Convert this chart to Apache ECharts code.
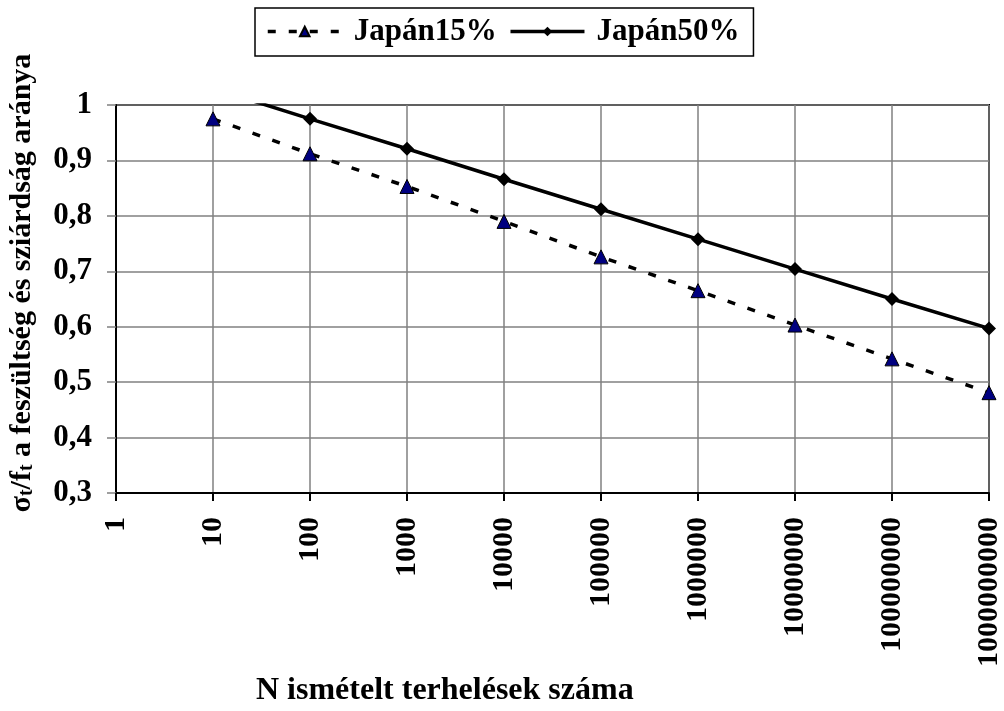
<!DOCTYPE html>
<html>
<head>
<meta charset="utf-8">
<script src="https://cdn.jsdelivr.net/npm/echarts@6/dist/echarts.min.js"></script>
<style>
  html, body { margin: 0; padding: 0; background: #fff; }
  #chart { width: 1004px; height: 711px; }
</style>
</head>
<body>
<div id="chart"></div>
<script>
// Number of repeated loads (log scale) and stress/strength ratio
const loadCycles = [10, 100, 1000, 10000, 100000, 1000000, 10000000, 100000000, 1000000000];
const japan15 = [0.975, 0.912, 0.853, 0.790, 0.726, 0.665, 0.603, 0.542, 0.481];
const japan50 = [1.03, 0.975, 0.921, 0.866, 0.812, 0.758, 0.704, 0.650, 0.597];
const seriesNames = ['Japán15%', 'Japán50%'];
const yTickValues = [0.3, 0.4, 0.5, 0.6, 0.7, 0.8, 0.9, 1];
const yTickLabels = ['0,3', '0,4', '0,5', '0,6', '0,7', '0,8', '0,9', '1'];
const xTitle = 'N ismételt terhelések száma';

const FONT = '"Liberation Serif", "Times New Roman", serif';

function yLabel(v) {
  for (let i = 0; i < yTickValues.length; i++) {
    if (Math.abs(v - yTickValues[i]) < 1e-6) return yTickLabels[i];
  }
  return '';
}

const chart = echarts.init(document.getElementById('chart'), null, { renderer: 'canvas' });

chart.setOption({
  backgroundColor: '#ffffff',
  animation: false,
  title: {
    text: xTitle,
    left: 256,
    top: 675,
    padding: 0,
    textStyle: { fontFamily: FONT, fontWeight: 'bold', fontSize: 32, color: '#000' }
  },
  legend: {
    data: seriesNames,
    left: 255,
    top: 8,
    width: 520,
    padding: [8, 14, 9, 11],
    borderColor: '#000',
    borderWidth: 1.5,
    itemWidth: 74,
    itemHeight: 12,
    itemGap: 12,
    lineStyle: { width: 3.5 },
    textStyle: {
      fontFamily: FONT, fontWeight: 'bold', fontSize: 31, color: '#000',
      padding: [0, 0, 0, 7]
    }
  },
  grid: {
    left: 116,
    right: 11,
    top: 105,
    bottom: 218,
    show: true,
    borderColor: '#000',
    borderWidth: 2,
    backgroundColor: 'transparent'
  },
  xAxis: {
    type: 'log',
    logBase: 10,
    min: 1,
    max: 1000000000,
    axisLine: { show: true, lineStyle: { color: '#000', width: 2 } },
    axisTick: { show: true, length: 8, lineStyle: { color: '#000', width: 2 } },
    minorTick: { show: false },
    splitLine: { show: true, lineStyle: { color: '#808080', width: 1.5 } },
    axisLabel: {
      rotate: 90,
      margin: 24,
      fontFamily: FONT,
      fontWeight: 'bold',
      fontSize: 30,
      color: '#000',
      formatter: v => String(Math.round(v))
    }
  },
  yAxis: {
    type: 'value',
    min: 0.3,
    max: 1,
    interval: 0.1,
    axisLine: { show: true, lineStyle: { color: '#000', width: 2 } },
    axisTick: { show: true, length: 9, lineStyle: { color: '#808080', width: 1.5 } },
    splitLine: { show: true, lineStyle: { color: '#808080', width: 1.5 } },
    axisLabel: {
      margin: 24,
      fontFamily: FONT,
      fontWeight: 'bold',
      fontSize: 31,
      color: '#000',
      formatter: yLabel
    }
  },
  graphic: [{
    type: 'text',
    x: 22,
    y: 283,
    rotation: Math.PI / 2,
    style: {
      text: '{b|σ}{s|t}{b|/f}{s|t}{b| a feszültség és sziárdság aránya}',
      align: 'center',
      verticalAlign: 'middle',
      fill: '#000',
      rich: {
        b: { fontFamily: FONT, fontWeight: 'bold', fontSize: 30, color: '#000' },
        s: { fontFamily: FONT, fontWeight: 'bold', fontSize: 20, color: '#000', verticalAlign: 'bottom', padding: [10, 0, 0, 0] }
      }
    }
  }],
  series: [
    {
      name: seriesNames[0],
      type: 'line',
      data: loadCycles.map((x, i) => [x, japan15[i]]),
      symbol: 'triangle',
      symbolSize: 14,
      itemStyle: { color: '#000080', borderColor: '#000', borderWidth: 1 },
      lineStyle: { color: '#000', width: 3.5, type: [8, 13] },
      clip: true
    },
    {
      name: seriesNames[1],
      type: 'line',
      data: loadCycles.map((x, i) => [x, japan50[i]]),
      symbol: 'diamond',
      symbolSize: 14,
      itemStyle: { color: '#000', borderColor: '#000', borderWidth: 0 },
      lineStyle: { color: '#000', width: 3.5 },
      clip: true
    }
  ]
});
</script>
</body>
</html>
